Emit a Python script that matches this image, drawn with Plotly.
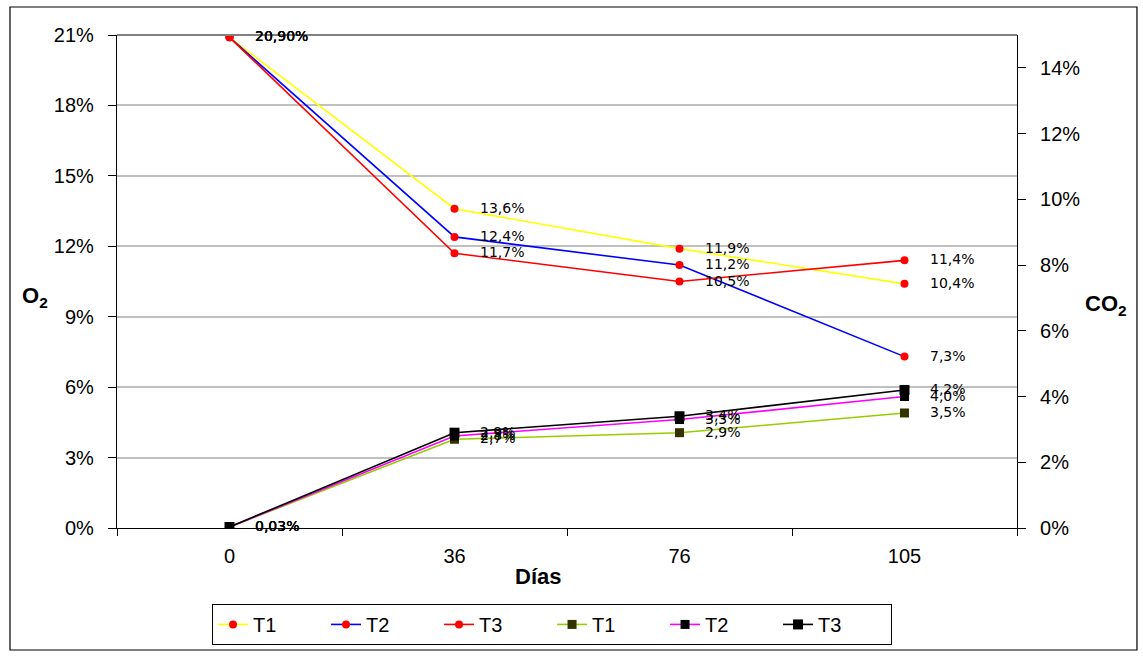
import plotly.graph_objects as go

# Sampling days (categorical x axis)
dias = ["0", "36", "76", "105"]

# O2 concentration (%), left axis
o2_t1 = [20.9, 13.6, 11.9, 10.4]
o2_t2 = [20.9, 12.4, 11.2, 7.3]
o2_t3 = [20.9, 11.7, 10.5, 11.4]

# CO2 concentration (%), right axis
co2_t1 = [0.03, 2.7, 2.9, 3.5]
co2_t2 = [0.03, 2.8, 3.3, 4.0]
co2_t3 = [0.03, 2.9, 3.4, 4.2]

o2_ticks = [0, 3, 6, 9, 12, 15, 18, 21]
co2_ticks = [0, 2, 4, 6, 8, 10, 12, 14]

TICK_FONT = dict(family="Liberation Sans, Arial, sans-serif", size=20, color="black")
LABEL_FONT = dict(family="DejaVu Sans, Verdana, sans-serif", size=14, color="black")


def fmt(v, i):
    s = f"{v:.2f}" if i == 0 else f"{v:.1f}"
    return s.replace(".", ",") + "%"


fig = go.Figure()

o2_series = [
    ("T1", o2_t1, "#FFFF00"),
    ("T2", o2_t2, "#0000FF"),
    ("T3", o2_t3, "#FF0000"),
]
co2_series = [
    ("T1", co2_t1, "#99CC00", "#333300", 9),
    ("T2", co2_t2, "#FF00FF", "#000000", 9),
    ("T3", co2_t3, "#000000", "#000000", 10),
]

for name, vals, col in o2_series:
    fig.add_trace(go.Scatter(
        x=dias, y=vals, name=name, mode="lines+markers",
        line=dict(color=col, width=1.6),
        marker=dict(symbol="circle", size=8, color="#FF0000"),
        yaxis="y",
    ))

for name, vals, col, mcol, msz in co2_series:
    fig.add_trace(go.Scatter(
        x=dias, y=vals, name=name, mode="lines+markers",
        line=dict(color=col, width=1.6),
        marker=dict(symbol="square", size=msz, color=mcol),
        yaxis="y2",
    ))

# Value labels: x given as category index so the day names are not read as numbers
annotations = []
for _, vals, _ in o2_series:
    for i, v in enumerate(vals):
        annotations.append(dict(
            x=i, y=v, xref="x", yref="y", text=fmt(v, i),
            showarrow=False, xanchor="left", yanchor="middle",
            xshift=23, yshift=1, font=LABEL_FONT,
        ))
for _, vals, _, _, _ in co2_series:
    for i, v in enumerate(vals):
        annotations.append(dict(
            x=i, y=v, xref="x", yref="y2", text=fmt(v, i),
            showarrow=False, xanchor="left", yanchor="middle",
            xshift=23, yshift=1, font=LABEL_FONT,
        ))

# Axis titles
title_font = dict(family="Liberation Sans, Arial, sans-serif", size=22, color="black")
annotations += [
    dict(x=-0.091, y=0.468, xref="paper", yref="paper", text="<b>O<sub>2</sub></b>",
         showarrow=False, xanchor="center", yanchor="middle", font=title_font),
    dict(x=1.099, y=0.452, xref="paper", yref="paper", text="<b>CO<sub>2</sub></b>",
         showarrow=False, xanchor="center", yanchor="middle", font=title_font),
    dict(x=0.468, y=-0.099, xref="paper", yref="paper", text="<b>Días</b>",
         showarrow=False, xanchor="center", yanchor="middle",
         font=dict(family="Liberation Sans, Arial, sans-serif", size=22, color="black")),
]

shapes = [
    # outer chart frame
    dict(type="rect", xref="paper", yref="paper", x0=-0.1189, x1=1.1333,
         y0=-0.2475, y1=1.0568, line=dict(color="black", width=1.2), layer="below"),
    # plot area top border
    dict(type="line", xref="paper", yref="paper", x0=0, x1=1, y0=1, y1=1,
         line=dict(color="#808080", width=2)),
]

fig.update_layout(
    width=1143, height=657, autosize=False,
    margin=dict(l=117, r=126, t=35, b=129, pad=0),
    paper_bgcolor="white", plot_bgcolor="white",
    showlegend=True,
    legend=dict(
        orientation="h", x=0.1056, y=-0.154, xanchor="left", yanchor="top",
        bordercolor="black", borderwidth=1, bgcolor="white",
        font=dict(family="Liberation Sans, Arial, sans-serif", size=20, color="black"),
        entrywidth=68, entrywidthmode="pixels", tracegroupgap=0,
    ),
    xaxis=dict(
        type="category", range=[-0.5, 3.5], showgrid=False, zeroline=False,
        showline=True, linecolor="black", linewidth=1.2,
        ticks="outside", tickson="boundaries", ticklen=7, tickcolor="black",
        tickfont=TICK_FONT, ticklabelstandoff=10,
    ),
    yaxis=dict(
        range=[0, 21], tickvals=o2_ticks, ticktext=[f"{t}%" for t in o2_ticks],
        showgrid=True, gridcolor="#C0C0C0", gridwidth=1.5, zeroline=False,
        showline=True, linecolor="black", linewidth=1.2,
        ticks="outside", ticklen=8, tickcolor="black",
        tickfont=TICK_FONT, ticklabelstandoff=10,
    ),
    yaxis2=dict(
        range=[0, 15], tickvals=co2_ticks, ticktext=[f"{t}%" for t in co2_ticks],
        overlaying="y", side="right", showgrid=False, zeroline=False,
        showline=True, linecolor="black", linewidth=1.2,
        ticks="outside", ticklen=8, tickcolor="black",
        tickfont=TICK_FONT, ticklabelstandoff=10,
    ),
    annotations=annotations,
    shapes=shapes,
)

fig.write_html("out.html")
